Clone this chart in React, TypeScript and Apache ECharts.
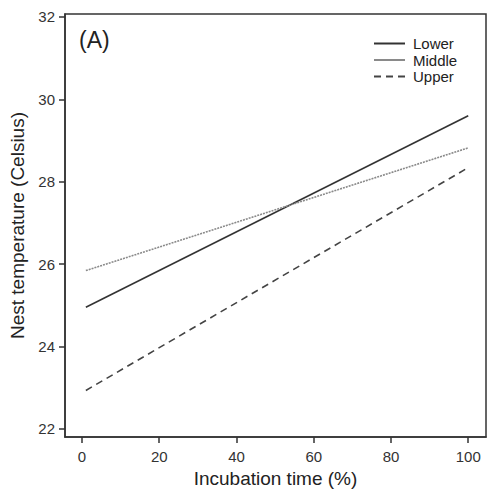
import React, { useEffect, useRef } from "react";
import * as echarts from "echarts";

const seriesNames = ["Lower", "Middle", "Upper"];
const xValues = [1, 100];
const lowerValues = [24.95, 29.6];
const middleValues = [25.84, 28.82];
const upperValues = [22.93, 28.34];
const xTicks = [0, 20, 40, 60, 80, 100];
const yTicks = [22, 24, 26, 28, 30, 32];

const FONT = "Liberation Sans, Arial, sans-serif";

export default function App() {
  const ref = useRef<HTMLDivElement>(null);
  useEffect(() => {
    if (!ref.current) return;
    const chart = echarts.init(ref.current, null, { renderer: "svg" });
    const mk = (vals: number[]) => xValues.map((x, i) => [x, vals[i]]);
    chart.setOption({
      animation: false,
      backgroundColor: "#fff",
      textStyle: { fontFamily: FONT },
      grid: {
        left: 65,
        top: 14,
        right: 2,
        bottom: 56,
        show: true,
        borderColor: "#333",
        borderWidth: 1.5,
        backgroundColor: "transparent",
      },
      xAxis: {
        type: "value",
        min: -4.4,
        max: 104.6,
        name: "Incubation time (%)",
        nameLocation: "middle",
        nameGap: 31,
        nameTextStyle: { fontSize: 19, color: "#222", fontFamily: FONT },
        axisLine: { show: true, onZero: false, lineStyle: { color: "#333", width: 1.5 } },
        axisTick: { show: true, length: 6, customValues: xTicks, lineStyle: { color: "#333", width: 1.5 } },
        axisLabel: { customValues: xTicks, fontSize: 15, color: "#333", margin: 12, fontFamily: FONT },
        splitLine: { show: false },
      },
      yAxis: {
        type: "value",
        min: 21.8,
        max: 32.07,
        name: "Nest temperature (Celsius)",
        nameLocation: "middle",
        nameGap: 38,
        nameTextStyle: { fontSize: 19, color: "#222", fontFamily: FONT },
        axisLine: { show: true, onZero: false, lineStyle: { color: "#333", width: 1.5 } },
        axisTick: { show: true, length: 6, customValues: yTicks, lineStyle: { color: "#333", width: 1.5 } },
        axisLabel: { customValues: yTicks, fontSize: 15, color: "#333", margin: 10, fontFamily: FONT },
        splitLine: { show: false },
      },
      legend: {
        orient: "vertical",
        left: 368,
        top: 31,
        itemWidth: 31,
        itemHeight: 13,
        itemGap: 1.5,
        itemStyle: { opacity: 0 },
        textStyle: { fontSize: 15, color: "#222", fontFamily: FONT, padding: [0, 0, 0, 3] },
        data: [
          { name: seriesNames[0] },
          { name: seriesNames[1], lineStyle: { type: "solid" } },
          { name: seriesNames[2] },
        ],
      },
      graphic: [
        {
          type: "text",
          left: 79,
          top: 28,
          style: { text: "(A)", fontSize: 23, fill: "#222", fontFamily: FONT },
        },
      ],
      series: [
        {
          name: seriesNames[0],
          type: "line",
          data: mk(lowerValues),
          showSymbol: false,
          symbol: "none",
          color: "#333",
          lineStyle: { color: "#333", width: 1.6, type: "solid" },
        },
        {
          name: seriesNames[1],
          type: "line",
          data: mk(middleValues),
          showSymbol: false,
          symbol: "none",
          color: "#999",
          lineStyle: { color: "#8a8a8a", width: 1.6, type: [2, 1] },
        },
        {
          name: seriesNames[2],
          type: "line",
          data: mk(upperValues),
          showSymbol: false,
          symbol: "none",
          color: "#444",
          lineStyle: { color: "#444", width: 1.6, type: [7, 5] },
        },
      ],
    });
    return () => chart.dispose();
  }, []);
  return <div ref={ref} style={{ width: 488, height: 493, position: "absolute", left: 0, top: 0 }} />;
}
